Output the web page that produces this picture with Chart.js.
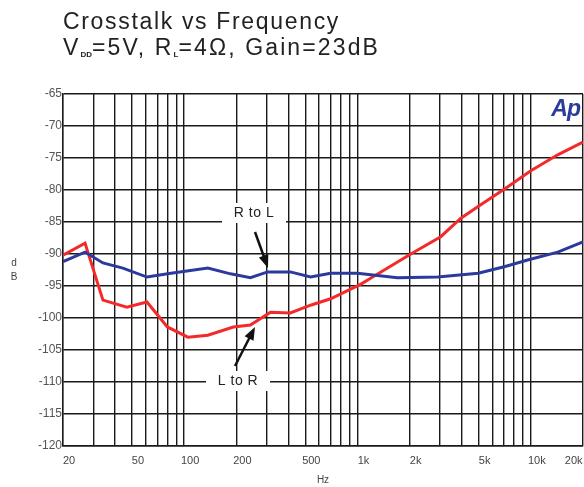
<!DOCTYPE html>
<html>
<head>
<meta charset="utf-8">
<script src="https://cdn.jsdelivr.net/npm/chart.js@4/dist/chart.umd.min.js"></script>
<style>
  html, body { margin: 0; padding: 0; background: #fff; }
  #wrap { width: 584px; height: 487px; position: relative; }
</style>
</head>
<body>
<div id="wrap"><canvas id="crosstalk"></canvas></div>
<script>
// values
const ltrFreq = [20, 26.8, 34, 46.7, 61, 80, 105, 137, 192, 241, 315, 410, 536, 700, 1047, 1190, 2030, 3020, 3950, 5140, 7370, 10000, 14300, 20000];
const ltrDb = [-90.2, -88.3, -97.2, -98.3, -97.5, -101.4, -103.0, -102.7, -101.4, -101.1, -99.1, -99.2, -98.0, -97.0, -94.7, -93.8, -90.0, -87.3, -84.4, -82.3, -79.5, -77.0, -74.5, -72.5];
const rtlFreq = [20, 26.8, 34, 44.3, 61, 84, 137, 185, 241, 303, 410, 536, 700, 1000, 1700, 2900, 4970, 7030, 9700, 14300, 20000];
const rtlDb = [-91.2, -89.7, -91.4, -92.2, -93.6, -93.0, -92.2, -93.1, -93.7, -92.8, -92.8, -93.6, -93.0, -93.0, -93.7, -93.6, -93.0, -92.0, -90.9, -89.7, -88.1];
const gridFreqs = [20, 30, 40, 50, 60, 70, 80, 90, 100, 200, 300, 400, 500, 600, 700, 800, 900,
                   1000, 2000, 3000, 4000, 5000, 6000, 7000, 8000, 9000, 10000, 20000];
const freqLabels = { 20: '20', 50: '50', 100: '100', 200: '200', 500: '500', 1000: '1k',
                     2000: '2k', 5000: '5k', 10000: '10k', 20000: '20k          ' };

const toPoints = (xs, ys) => xs.map((x, i) => ({ x: x, y: ys[i] }));
const FONT = '"Liberation Sans", Arial, sans-serif';

const decorPlugin = {
    id: 'decor',
    beforeDraw(chart) {
        const ctx = chart.ctx;
        ctx.save();
        ctx.fillStyle = '#fff';
        ctx.fillRect(0, 0, chart.width, chart.height);
        ctx.restore();
    },
    afterDatasetsDraw(chart) {
        const ctx = chart.ctx;
        const y = chart.scales.y;
        const area = chart.chartArea;
        ctx.save();
        // minor dB ticks on the left edge
        ctx.strokeStyle = '#1a1a1a';
        ctx.lineWidth = 1.2;
        for (let v = -119; v > -65; v--) {
            if (v % 5 === 0) continue;
            const py = Math.round(y.getPixelForValue(v)) + 0.5;
            ctx.beginPath();
            ctx.moveTo(area.left, py);
            ctx.lineTo(area.left + 5, py);
            ctx.stroke();
        }

        // curve labels with arrows
        ctx.font = '14px ' + FONT;
        ctx.textBaseline = 'middle';
        ctx.textAlign = 'center';
        const label = (txt, cx, cy) => {
            ctx.fillStyle = '#fff';
            ctx.fillRect(cx - 32, cy - 10, 64, 20);
            ctx.fillStyle = '#222';
            ctx.letterSpacing = '0.5px';
            ctx.fillText(txt, cx, cy);
            ctx.letterSpacing = '0px';
        };
        label('R to L', 254, 213);
        label('L to R', 238, 381);
        const arrow = (x1, y1, x2, y2) => {
            const a = Math.atan2(y2 - y1, x2 - x1);
            ctx.strokeStyle = '#111';
            ctx.fillStyle = '#111';
            ctx.lineWidth = 2.5;
            ctx.beginPath();
            ctx.moveTo(x1, y1);
            ctx.lineTo(x2 - 9 * Math.cos(a), y2 - 9 * Math.sin(a));
            ctx.stroke();
            ctx.beginPath();
            ctx.moveTo(x2, y2);
            ctx.lineTo(x2 - 13 * Math.cos(a) + 5 * Math.sin(a), y2 - 13 * Math.sin(a) - 5 * Math.cos(a));
            ctx.lineTo(x2 - 13 * Math.cos(a) - 5 * Math.sin(a), y2 - 13 * Math.sin(a) + 5 * Math.cos(a));
            ctx.closePath();
            ctx.fill();
        };
        arrow(255, 232, 268, 268);
        arrow(235, 366, 255, 327);

        // Ap logo
        ctx.font = 'italic bold 23px ' + FONT;
        ctx.textAlign = 'right';
        ctx.textBaseline = 'alphabetic';
        ctx.fillStyle = '#2a3b9c';
        ctx.letterSpacing = '-1px';
        ctx.fillText('Ap', 580, 116);
        ctx.letterSpacing = '0px';

        // title
        ctx.fillStyle = '#222';
        ctx.textAlign = 'left';
        const big = '23px ' + FONT;
        const small = 'bold 8px ' + FONT;
        ctx.font = big;
        let w0 = ctx.measureText('Crosstalk vs Frequency').width;
        ctx.letterSpacing = ((277 - w0) / 22) + 'px';
        ctx.fillText('Crosstalk vs Frequency', 63, 29);
        ctx.letterSpacing = '0px';
        // second line with subscripts
        const parts = [['V', big], ['DD', small], ['=5V, R', big], ['L', small], ['=4Ω, Gain=23dB', big]];
        let bigW = 0, smallW = 0, bigN = 0;
        for (const [t, f] of parts) {
            ctx.font = f;
            if (f === big) { bigW += ctx.measureText(t).width; bigN += t.length; }
            else smallW += ctx.measureText(t).width;
        }
        const ls = (317 - bigW - smallW) / bigN;
        let x = 63;
        for (const [t, f] of parts) {
            ctx.font = f;
            ctx.letterSpacing = f === big ? ls + 'px' : '0px';
            ctx.fillText(t, x, f === big ? 55 : 57);
            x += ctx.measureText(t).width;
        }
        ctx.letterSpacing = '0px';

        // stacked y-axis title
        ctx.font = '10px ' + FONT;
        ctx.fillStyle = '#444';
        ctx.textAlign = 'center';
        ctx.fillText('d', 14, 266);
        ctx.fillText('B', 14, 280);
        ctx.restore();
    }
};

new Chart(document.getElementById('crosstalk').getContext('2d'), {
    type: 'line',
    data: {
        datasets: [{
            label: 'R to L',
            data: toPoints(rtlFreq, rtlDb),
            borderColor: '#2c3a9e',
            borderWidth: 3,
            pointRadius: 0,
            tension: 0
        }, {
            label: 'L to R',
            data: toPoints(ltrFreq, ltrDb),
            borderColor: '#f42a2a',
            borderWidth: 3,
            pointRadius: 0,
            tension: 0
        }]
    },
    options: {
        responsive: true,
        maintainAspectRatio: false,
        animation: false,
        events: [],
        layout: { padding: { top: 94, right: 1, left: 0, bottom: 0 } },
        plugins: { legend: { display: false }, tooltip: { enabled: false } },
        scales: {
            x: {
                type: 'logarithmic',
                min: 20,
                max: 20000,
                afterBuildTicks: function(scale) {
                    scale.ticks = gridFreqs.map(v => ({ value: v }));
                },
                afterFit: function(scale) {
                    scale.height = 41;
                    scale.paddingLeft = 0;
                    scale.paddingRight = 0;
                },
                grid: { color: '#1a1a1a', lineWidth: 1.4, drawTicks: false },
                border: { color: '#1a1a1a', width: 1.4 },
                ticks: {
                    autoSkip: false,
                    maxRotation: 0,
                    padding: 8,
                    labelOffset: 6,
                    color: '#444',
                    font: { family: FONT, size: 11 },
                    callback: function(value) {
                        return freqLabels[value] || '';
                    }
                },
                title: {
                    display: true,
                    text: 'Hz',
                    color: '#444',
                    padding: { top: 0, bottom: 1 },
                    font: { family: FONT, size: 10 }
                }
            },
            y: {
                min: -120,
                max: -65,
                afterFit: function(scale) {
                    scale.width = 63;
                    scale.paddingTop = 0;
                    scale.paddingBottom = 0;
                },
                grid: { color: '#1a1a1a', lineWidth: 1.4, drawTicks: false },
                border: { color: '#1a1a1a', width: 1.4 },
                ticks: {
                    stepSize: 5,
                    padding: 1,
                    color: '#555',
                    font: { family: FONT, size: 12 }
                }
            }
        }
    },
    plugins: [decorPlugin]
});
</script>
</body>
</html>
